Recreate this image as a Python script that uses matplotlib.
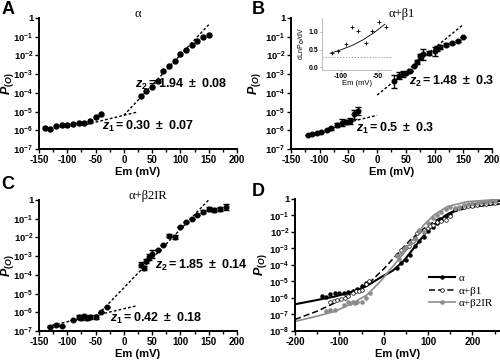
import numpy as np
import matplotlib
matplotlib.use("Agg")
import matplotlib.pyplot as plt
from matplotlib.lines import Line2D
from matplotlib.ticker import NullLocator, MultipleLocator

plt.rcParams['font.family'] = ['Liberation Sans', 'DejaVu Sans']
plt.rcParams['font.weight'] = 'bold'
plt.rcParams['mathtext.fontset'] = 'custom'
plt.rcParams['mathtext.rm'] = 'Liberation Sans'
plt.rcParams['mathtext.bf'] = 'Liberation Sans:bold'
plt.rcParams['mathtext.it'] = 'Liberation Sans:italic:bold'

# ---- panel A (alpha): log10 P(O) vs Em
a_em = [-140, -130, -120, -110, -100, -90, -80, -70, -60, -50, -40,
        30, 40, 50, 60, 70, 80, 90, 100, 110, 120, 130, 140, 150]
a_log = [-5.86, -5.91, -5.75, -5.71, -5.71, -5.68, -5.63, -5.59, -5.48, -5.30, -5.12,
         -4.16, -3.88, -3.70, -3.39, -2.86, -2.55, -2.32, -1.93, -1.70, -1.43, -1.25, -1.04, -0.89]
a_fit1_em, a_fit1_log = [-75, 22], [-5.75, -5.04]
a_fit2_em, a_fit2_log = [0, 150], [-5.20, -0.36]

# ---- panel B (alpha + beta1)
b_lo_em = [-120, -113, -105, -97, -88, -80, -70, -62, -55, -48, -40, -33]
b_lo_log = [-6.24, -6.19, -6.15, -6.07, -5.98, -5.90, -5.72, -5.60, -5.55, -5.50, -5.15, -4.98]
b_lo_err = [0, 0, 0, 0, 0, 0.08, 0.12, 0.18, 0.12, 0.15, 0.25, 0.20]
b_hi_em = [30, 38, 45, 50, 57, 65, 70, 75, 80, 90, 100, 105, 110, 120, 130, 140, 150]
b_hi_log = [-3.38, -3.08, -2.98, -2.93, -2.85, -2.55, -2.35, -2.05, -1.95, -1.88, -1.78,
            -1.62, -1.55, -1.42, -1.35, -1.25, -1.02]
b_hi_err = [0.35, 0.2, 0.15, 0, 0, 0, 0.12, 0.15, 0.3, 0.12, 0.25, 0.12, 0.1, 0.1, 0.05, 0.05, 0]
b_fit1_em, b_fit1_log = [-50, 0], [-5.57, -5.20]
b_fit2_em, b_fit2_log = [0, 150], [-4.12, -0.35]

# inset of B: dLnP/dV
ins_em = [-112, -104, -94, -85, -77, -66, -58, -48, -38]
ins_val = [0.42, 0.47, 0.65, 1.13, 1.04, 0.69, 1.04, 1.29, 1.15]
ins_fit_em = [-115, -100, -85, -70, -55, -40]
ins_fit_val = [0.40, 0.50, 0.62, 0.78, 0.98, 1.22]

# ---- panel C (alpha + beta2IR)
c_lo_em = [-130, -120, -110, -90, -80, -75, -70, -65, -60, -50, -40, -30]
c_lo_log = [-6.79, -6.70, -6.73, -6.43, -6.25, -6.28, -6.22, -6.30, -6.27, -6.24, -5.98, -5.72]
c_lo_err = [0, 0, 0, 0, 0.1, 0.12, 0.1, 0.1, 0.1, 0.1, 0, 0]
c_hi_em = [30, 35, 40, 45, 50, 60, 70, 80, 90, 100, 110, 120, 130, 140, 150, 160, 170, 180]
c_hi_log = [-3.45, -3.62, -3.28, -3.05, -2.88, -2.68, -2.42, -1.90, -1.98, -1.47, -1.18,
            -1.00, -0.80, -0.62, -0.50, -0.55, -0.48, -0.38]
c_hi_err = [0.15, 0.1, 0.1, 0.15, 0.2, 0, 0, 0.1, 0.1, 0, 0, 0, 0, 0.1, 0.1, 0.12, 0.12, 0.15]
c_fit1_em, c_fit1_log = [-135, 22], [-6.75, -5.66]
c_fit2_em, c_fit2_log = [-45, 150], [-6.10, 0.0]

# ---- panel D: fitted curves + extra high-voltage points
d_a_em = [-200, -150, -112, -75, -40, -10, 20, 45, 70, 95, 120, 145, 175, 210, 262]
d_a_log = [-6.38, -6.12, -5.92, -5.66, -5.30, -4.80, -4.35, -3.75, -2.90, -2.05, -1.38,
           -0.90, -0.50, -0.28, -0.12]
d_b1_em = [-200, -150, -112, -75, -30, 0, 30, 60, 90, 120, 150, 190, 262]
d_b1_log = [-7.30, -6.80, -6.32, -5.78, -5.01, -4.24, -3.35, -2.48, -1.80, -1.25, -0.85, -0.52, -0.30]
d_b2_em = [-200, -150, -112, -75, -38, -8, 23, 45, 68, 90, 113, 143, 188, 262]
d_b2_log = [-7.42, -7.10, -6.83, -6.38, -5.82, -5.01, -4.00, -3.29, -2.48, -1.58, -0.97,
            -0.46, -0.16, -0.02]
d_b1_ext_em = [160, 170, 180, 190, 200, 210, 220, 230, 240, 250]
d_b1_ext_log = [-0.62, -0.55, -0.50, -0.45, -0.40, -0.36, -0.33, -0.30, -0.27, -0.25]
d_b2_ext_em = [190, 200, 210, 220, 230, 240, 250]
d_b2_ext_log = [-0.30, -0.26, -0.22, -0.20, -0.17, -0.15, -0.12]

GRAY = '#8c8c8c'


def p(v):
    return 10.0 ** np.asarray(v, dtype=float)


def log_err(lg, e):
    lg, e = np.asarray(lg, float), np.asarray(e, float)
    return [10 ** lg - 10 ** (lg - e), 10 ** (lg + e) - 10 ** lg]


def style(ax, xlim, xticks, xminor, ymin_exp, ylab_x):
    ax.set_yscale('log')
    ax.set_ylim(10.0 ** ymin_exp, 1)
    ax.set_xlim(*xlim)
    ks = list(range(ymin_exp, 1))
    ax.set_yticks([10.0 ** k for k in ks])
    ax.set_yticklabels(['1' if k == 0 else r'$\mathbf{10^{%d}}$' % k for k in ks])
    ax.yaxis.set_minor_locator(NullLocator())
    ax.set_xticks(xticks)
    ax.set_xticklabels([str(t) for t in xticks])
    ax.xaxis.set_minor_locator(MultipleLocator(xminor))
    for s in ('top', 'right'):
        ax.spines[s].set_visible(False)
    for s in ('left', 'bottom'):
        ax.spines[s].set_linewidth(1.4)
    ax.tick_params(which='major', direction='out', length=3, width=1, labelsize=6.8, pad=1)
    ax.tick_params(which='minor', direction='out', length=2, width=1)
    ax.tick_params(axis='x', labelsize=7, pad=1.5)
    ax.set_xlabel('Em (mV)', fontsize=8, fontweight='bold', labelpad=1)
    ax.set_ylabel(r'$P_{(O)}$', fontsize=9)
    ax.yaxis.set_label_coords(ylab_x, 0.5)


fit_kw = dict(color='black', ls=(0, (2, 1.5)), lw=1)
pt_kw = dict(fmt='o', color='black', ms=3.3, capsize=2, elinewidth=1, capthick=1)
ztxt_kw = dict(fontsize=9, va='center', ha='left')

fig = plt.figure(figsize=(5, 3.64), dpi=100)

# A
axA = fig.add_axes([0.078, 0.5907, 0.396, 0.360])
style(axA, (-150, 200), list(range(-150, 201, 50)), 25, -7, -0.118)
axA.plot(a_fit1_em, p(a_fit1_log), **fit_kw)
axA.plot(a_fit2_em, p(a_fit2_log), **fit_kw)
axA.plot(a_em, p(a_log), 'o', color='black', ms=3.6)
axA.text(20, 10 ** -3.57, r'$z_2\mathbf{=1.94}\ \pm\ \mathrm{0.08}$', **ztxt_kw)
axA.text(-39, 10 ** -5.8, r'$z_1\mathbf{=0.30}\ \pm\ \mathrm{0.07}$', **ztxt_kw)
axA.text(0.5, 1.03, 'α', transform=axA.transAxes, ha='center', va='center',
         family='Liberation Serif', fontweight='normal', fontsize=9)

# B
axB = fig.add_axes([0.582, 0.5907, 0.402, 0.360])
style(axB, (-150, 200), list(range(-150, 201, 50)), 25, -7, -0.14)
axB.plot(b_fit1_em, p(b_fit1_log), **fit_kw)
axB.plot(b_fit2_em, p(b_fit2_log), **fit_kw)
axB.errorbar(b_lo_em, p(b_lo_log), yerr=log_err(b_lo_log, b_lo_err), **pt_kw)
axB.errorbar(b_hi_em, p(b_hi_log), yerr=log_err(b_hi_log, b_hi_err), **pt_kw)
axB.text(55, 10 ** -3.4, r'$z_2\mathbf{=1.48}\ \pm\ \mathrm{0.3}$', **ztxt_kw)
axB.text(-37, 10 ** -5.88, r'$z_1\mathbf{=0.5}\ \pm\ \mathrm{0.3}$', **ztxt_kw)
axB.text(0.55, 1.03, 'α+β1', transform=axB.transAxes, ha='center', va='center',
         family='Liberation Serif', fontweight='normal', fontsize=9)

ins = fig.add_axes([0.643, 0.808, 0.14, 0.143])
ins.set_facecolor('none')
ins.axhline(0.30, color='0.6', ls=':', lw=0.8)
ins.plot(ins_fit_em, ins_fit_val, color='black', lw=0.6)
ins.plot(ins_em, ins_val, '+', color='black', ms=2.5, mew=0.6)
ins.set_xlim(-127, -31)
ins.set_ylim(-0.07, 1.4)
ins.set_xticks([-100, -50])
ins.set_xticklabels(['-100', '-50'])
ins.set_yticks([0, 0.5, 1.0])
ins.set_yticklabels(['0.0', '0.5', '1.0'])
for s in ('top', 'right'):
    ins.spines[s].set_visible(False)
for s in ('left', 'bottom'):
    ins.spines[s].set_color('0.7')
    ins.spines[s].set_linewidth(0.6)
ins.tick_params(length=1.5, width=0.5, labelsize=5, pad=1, color='0.6')
ins.set_xlabel('Em (mV)', fontsize=5.5, labelpad=0)
ins.set_ylabel(r'dLnP$_{\mathrm{O}}$/dV', fontsize=5, fontweight='normal', labelpad=1)

# C
axC = fig.add_axes([0.078, 0.0907, 0.396, 0.360])
style(axC, (-150, 200), list(range(-150, 201, 50)), 25, -7, -0.118)
axC.plot(c_fit1_em, p(c_fit1_log), **fit_kw)
axC.plot(c_fit2_em, p(c_fit2_log), **fit_kw)
axC.errorbar(c_lo_em, p(c_lo_log), yerr=log_err(c_lo_log, c_lo_err), **pt_kw)
axC.errorbar(c_hi_em, p(c_hi_log), yerr=log_err(c_hi_log, c_hi_err), **pt_kw)
axC.text(55, 10 ** -3.48, r'$z_2\mathbf{=1.85}\ \pm\ \mathrm{0.14}$', **ztxt_kw)
axC.text(-25, 10 ** -6.34, r'$z_1\mathbf{=0.42}\ \pm\ \mathrm{0.18}$', **ztxt_kw)
axC.text(0.55, 1.03, 'α+β2IR', transform=axC.transAxes, ha='center', va='center',
         family='Liberation Serif', fontweight='normal', fontsize=9)

# D
axD = fig.add_axes([0.59, 0.0907, 0.41, 0.3626])
style(axD, (-200, 262), [-200, -100, 0, 100, 200], 50, -8, -0.125)
axD.plot(d_a_em, p(d_a_log), color='black', lw=1.5)
axD.plot(d_b1_em, p(d_b1_log), color='black', lw=1.1, ls=(0, (4, 2)))
axD.plot(d_b2_em, p(d_b2_log), color=GRAY, lw=1.2)
axD.plot(a_em, p(a_log), 'o', color='black', ms=2.2)
axD.plot(b_lo_em + b_hi_em + d_b1_ext_em, p(b_lo_log + b_hi_log + d_b1_ext_log), 'o',
         mfc='white', mec='black', mew=0.5, ms=2.6)
axD.plot(c_lo_em + c_hi_em + d_b2_ext_em, p(c_lo_log + c_hi_log + d_b2_ext_log), 'o',
         color=GRAY, ms=2.3)
handles = [
    Line2D([], [], color='black', lw=1.5, marker='o', ms=2.2),
    Line2D([], [], color='black', lw=1.1, ls=(0, (4, 2)), marker='o', mfc='white',
           mec='black', mew=0.5, ms=2.6),
    Line2D([], [], color=GRAY, lw=1.2, marker='o', ms=2.3),
]
axD.legend(handles, ['α', 'α+β1', 'α+β2IR'], loc='upper left', bbox_to_anchor=(0.63, 0.47),
           frameon=False, handlelength=2.4, handletextpad=0.3, labelspacing=0.25,
           borderaxespad=0, prop={'family': 'Liberation Serif', 'size': 8, 'weight': 'normal'})

# panel letters
for lbl, x, y in [('A', 0.003, 0.998), ('B', 0.503, 0.998), ('C', 0.003, 0.517), ('D', 0.503, 0.497)]:
    fig.text(x, y, lbl, fontsize=13, fontweight='bold', va='top', ha='left')

fig.savefig('out.png', dpi=100)
